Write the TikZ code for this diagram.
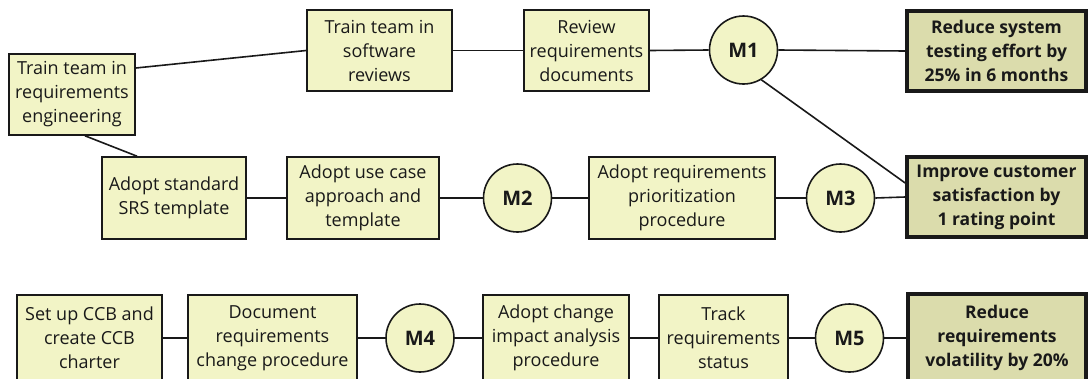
\documentclass[tikz,border=0pt]{standalone}
\usepackage{fontspec}
\setmainfont{Open Sans}
\definecolor{boxfill}{RGB}{242,244,198}
\definecolor{goalfill}{RGB}{219,220,172}
\definecolor{linec}{RGB}{25,25,25}
\begin{document}
\begin{tikzpicture}[x=1pt,y=1pt,
  every node/.style={inner sep=0pt, align=center, font=\fontsize{18}{24}\selectfont, text=linec},
  task/.style={draw=linec, fill=boxfill, line width=1.6pt, rectangle, minimum height=82pt},
  goal/.style={draw=linec, fill=goalfill, line width=3.6pt, rectangle, minimum height=80pt, font=\fontsize{17.5}{24}\selectfont\bfseries},
  mile/.style={draw=linec, fill=boxfill, line width=1.6pt, circle, minimum size=68pt, font=\fontsize{20}{24}\selectfont\bfseries},
  link/.style={draw=linec, line width=1.6pt}]
\clip (0,0) rectangle (1089,-378);
\fill[white] (0,0) rectangle (1089,-378);
% row 1
\node[task, minimum width=126pt, minimum height=81pt] (tre) at (72,-94.5) {Train team in\\requirements\\engineering};
\node[task, minimum width=145pt, minimum height=81pt] (tsr) at (379.5,-50.5) {Train team in\\software\\reviews};
\node[task, minimum width=125pt, minimum height=81pt] (rrd) at (586.5,-50.5) {Review\\requirements\\documents};
\node[mile] (m1) at (743.5,-50) {M1};
\node[goal, minimum width=179pt] (g1) at (996.5,-51) {Reduce system\\testing effort by\\25\% in 6 months};
% row 2
\node[task, minimum width=144pt] (srs) at (174,-198) {Adopt standard\\SRS template};
\node[task, minimum width=152pt] (uca) at (363,-198) {Adopt use case\\approach and\\template};
\node[mile] (m2) at (517.5,-198) {M2};
\node[task, minimum width=186pt] (arp) at (682,-198) {Adopt requirements\\prioritization\\procedure};
\node[mile] (m3) at (840.5,-198) {M3};
\node[goal, minimum width=179pt] (g2) at (996.5,-197) {Improve customer\\satisfaction by\\1 rating point};
% row 3
\node[task, minimum width=145pt, minimum height=86pt] (ccb) at (89.5,-338) {Set up CCB and\\create CCB\\charter};
\node[task, minimum width=169pt, minimum height=86pt] (doc) at (272.5,-338) {Document\\requirements\\change procedure};
\node[mile] (m4) at (420,-338) {M4};
\node[task, minimum width=146pt, minimum height=86pt] (cia) at (556,-338) {Adopt change\\impact analysis\\procedure};
\node[task, minimum width=129pt, minimum height=86pt] (trs) at (723.5,-338) {Track\\requirements\\status};
\node[mile] (m5) at (849.5,-338) {M5};
\node[goal, minimum width=178pt, minimum height=88pt] (g3) at (997,-338) {Reduce\\requirements\\volatility by 20\%};
% connectors
\path[link] ([yshift=26.5pt]tre.east) -- (tsr.west);
\path[link] ([xshift=13pt]tre.south) -- ([xshift=-37pt]srs.north);
\path[link] (tsr.east) -- (rrd.west);
\path[link] (rrd.east) -- (m1.west);
\path[link] (m1.east) -- (g1.west);
\path[link] (m1.-59) -- ([yshift=14pt]g2.west);
\path[link] (srs.east) -- (uca.west);
\path[link] (uca.east) -- (m2.west);
\path[link] (m2.east) -- (arp.west);
\path[link] (arp.east) -- (m3.west);
\path[link] (m3.east) -- (g2.west);
\path[link] (ccb.east) -- (doc.west);
\path[link] (doc.east) -- (m4.west);
\path[link] (m4.east) -- (cia.west);
\path[link] (cia.east) -- (trs.west);
\path[link] (trs.east) -- (m5.west);
\path[link] (m5.east) -- (g3.west);
\end{tikzpicture}
\end{document}
